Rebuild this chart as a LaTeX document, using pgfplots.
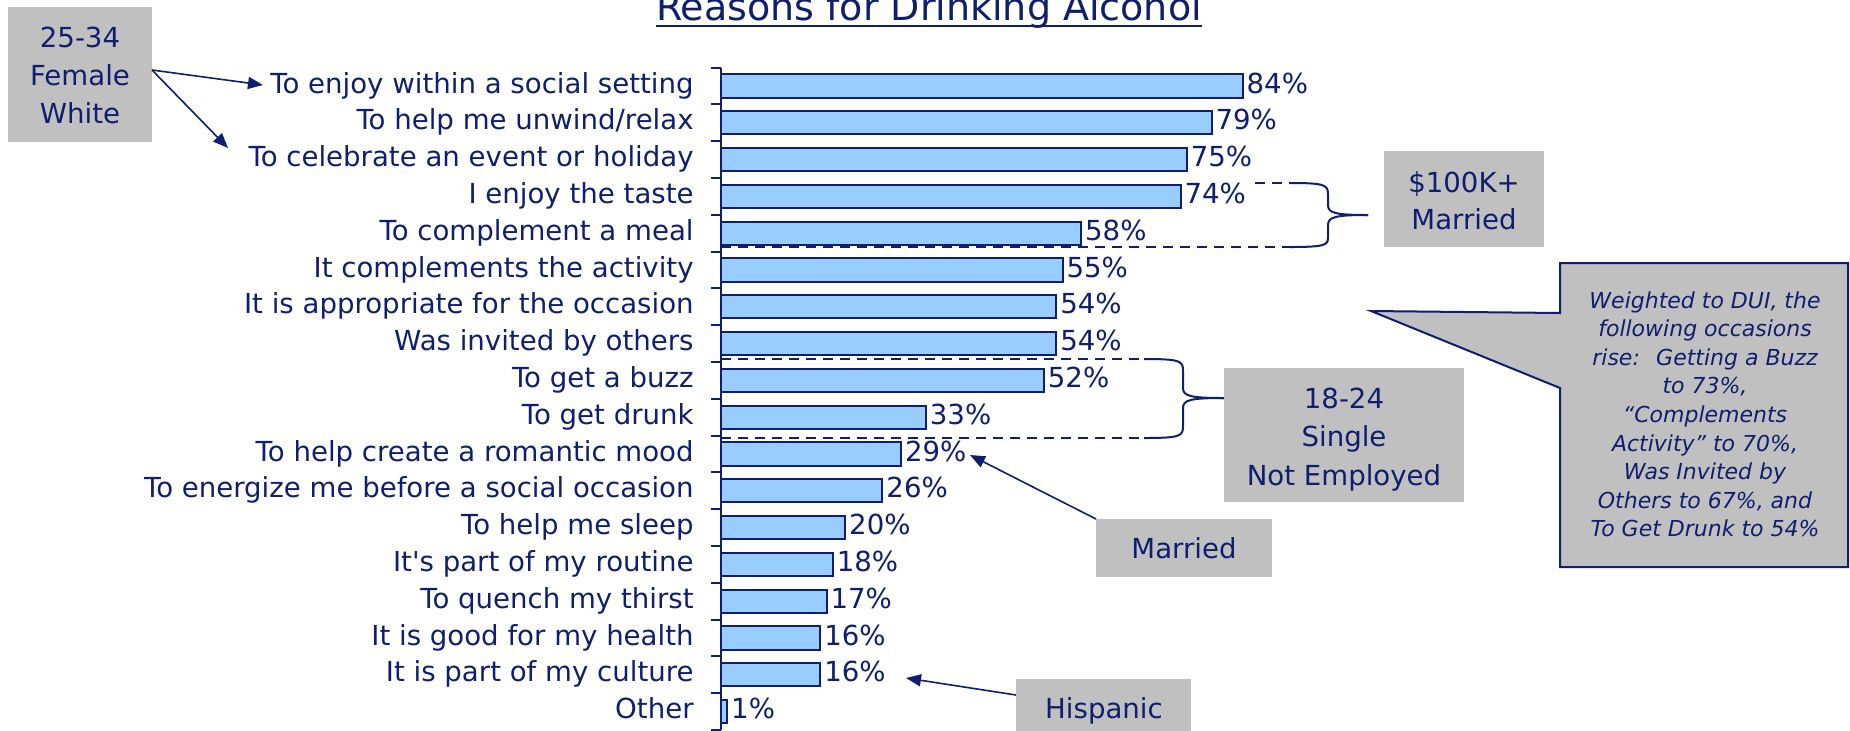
\documentclass[border=0pt]{standalone}
\usepackage{pgfplots}
\pgfplotsset{compat=1.18}
\usepackage{fontspec}
\setmainfont{DejaVu Sans}
\usetikzlibrary{arrows.meta}
\definecolor{navyt}{HTML}{0F1E6E}
\definecolor{barfill}{HTML}{99CCFF}
\definecolor{boxgray}{HTML}{C0C0C0}
\newcommand{\lf}{\fontsize{13.8}{16}\selectfont}
\newcommand{\cf}{\fontsize{11}{14}\selectfont\itshape}
\begin{document}
\begin{tikzpicture}
\useasboundingbox (0pt,0pt) rectangle (925pt,-365pt);
\begin{axis}[
  at={(360.5pt,-33.8pt)}, anchor=north west,
  scale only axis, width=310.5pt, height=331.2pt,
  xmin=0, xmax=100, ymin=-0.5, ymax=17.5, y dir=reverse,
  enlargelimits=false, clip=false,
  xbar, bar width=11.65pt,
  axis x line=none, axis y line*=left,
  axis line style={navyt, line width=1pt},
  ytick={0,...,17},
  yticklabels={To enjoy within a social setting,To help me unwind/relax,To celebrate an event or holiday,I enjoy the taste,To complement a meal,It complements the activity,It is appropriate for the occasion,Was invited by others,To get a buzz,To get drunk,To help create a romantic mood,To energize me before a social occasion,To help me sleep,It\textquotesingle s part of my routine,To quench my thirst,It is good for my health,It is part of my culture,Other},
  major tick length=0pt,
  minor ytick={-0.5,0.5,...,17.5},
  minor tick length=5pt,
  tick align=outside,
  minor tick style={navyt, line width=1pt},
  yticklabel style={font=\lf, text=navyt, inner sep=0pt, xshift=-13.5pt, anchor=east, text height=10pt, text depth=3pt},
  nodes near coords={\pgfmathprintnumber[assume math mode=true]{\pgfplotspointmeta}\%},
  nodes near coords style={font=\lf, text=navyt, anchor=west, inner sep=1.5pt, text height=10pt, text depth=3pt},
  point meta=x,
]
\addplot[fill=barfill, draw=navyt, line width=1pt] coordinates {
(84,0) (79,1) (75,2) (74,3) (58,4) (55,5) (54,6) (54,7) (52,8) (33,9)
(29,10) (26,11) (20,12) (18,13) (17,14) (16,15) (16,16) (1,17)};
\end{axis}
\begin{scope}[x=0.5pt,y=-0.5pt]
% title
\node[anchor=base, font=\fontsize{19}{22}\selectfont, text=navyt, inner sep=0pt] (t) at (929,20) {Reasons for Drinking Alcohol};
\draw[navyt, line width=1pt] ([yshift=-3pt]t.base west) -- ([yshift=-3pt]t.base east);
% 25-34 box
\fill[boxgray] (8,7) rectangle (152,142);
\node[anchor=base, font=\lf, text=navyt] at (80,47) {25-34};
\node[anchor=base, font=\lf, text=navyt] at (80,85) {Female};
\node[anchor=base, font=\lf, text=navyt] at (80,123) {White};
\draw[navyt, line width=0.8pt, -{Triangle[length=7.5pt,width=6pt]}] (152,70) -- (263,85);
\draw[navyt, line width=0.8pt, -{Triangle[length=7.5pt,width=6pt]}] (152,70) -- (228,148);
% $100K+ bracket
\draw[navyt, line width=1pt, dash pattern=on 5pt off 3.5pt] (1255,183) -- (1290,183);
\draw[navyt, line width=1pt, dash pattern=on 5pt off 3.5pt] (721,247) -- (1290,247);
\draw[navyt, line width=1pt] (1290,183) .. controls (1326,183) and (1328,185) .. (1328,195) -- (1328,205) .. controls (1328,213) and (1335,215) .. (1368,215);
\draw[navyt, line width=1pt] (1290,247) .. controls (1326,247) and (1328,245) .. (1328,237) -- (1328,225) .. controls (1328,217) and (1335,215) .. (1368,215);
\fill[boxgray] (1384,151) rectangle (1544,247);
\node[anchor=base, font=\lf, text=navyt] at (1464,192) {\$100K+};
\node[anchor=base, font=\lf, text=navyt] at (1464,229) {Married};
% 18-24 bracket
\draw[navyt, line width=1pt, dash pattern=on 5pt off 3.5pt] (721,359) -- (1144,359);
\draw[navyt, line width=1pt, dash pattern=on 5pt off 3.5pt] (721,438) -- (1144,438);
\draw[navyt, line width=1pt] (1144,359) .. controls (1181,359) and (1183,361) .. (1183,371) -- (1183,388) .. controls (1183,396) and (1190,398) .. (1224,398);
\draw[navyt, line width=1pt] (1144,438) .. controls (1181,438) and (1183,436) .. (1183,426) -- (1183,408) .. controls (1183,400) and (1190,398) .. (1224,398);
\fill[boxgray] (1224,368) rectangle (1464,502);
\node[anchor=base, font=\lf, text=navyt] at (1344,408) {18-24};
\node[anchor=base, font=\lf, text=navyt] at (1344,446.5) {Single};
\node[anchor=base, font=\lf, text=navyt] at (1344,485) {Not Employed};
% callout
\filldraw[fill=boxgray, draw=navyt, line width=1pt] (1560,263) -- (1848,263) -- (1848,567) -- (1560,567) -- (1560,388) -- (1371,311) -- (1560,313) -- cycle;
\foreach \txt [count=\i from 0] in {Weighted to DUI{,} the, following occasions, rise:~ Getting a Buzz, to 73\%{,}, “Complements, Activity” to 70\%{,}, Was Invited by, Others to 67\%{,} and, To Get Drunk to 54\%}
  {\node[anchor=base, font=\cf, text=navyt, inner sep=0pt] at (1705,308+28.6*\i) {\txt};}
% Married
\fill[boxgray] (1096,519) rectangle (1272,577);
\node[anchor=base, font=\lf, text=navyt] at (1184,558) {Married};
\draw[navyt, line width=0.8pt, -{Triangle[length=7.5pt,width=6pt]}] (1096,519) -- (970,455);
% Hispanic
\fill[boxgray] (1016,679) rectangle (1191,760);
\node[anchor=base, font=\lf, text=navyt] at (1104,718) {Hispanic};
\draw[navyt, line width=0.8pt, -{Triangle[length=7.5pt,width=6pt]}] (1016,695) -- (906,678);
\end{scope}
\end{tikzpicture}
\end{document}
